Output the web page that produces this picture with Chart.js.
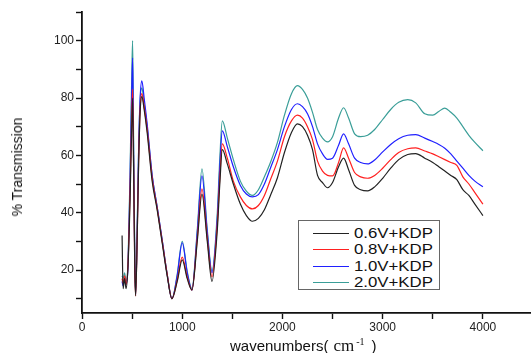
<!DOCTYPE html>
<html>
<head>
<meta charset="utf-8">
<script src="https://cdn.jsdelivr.net/npm/chart.js@4.4.1/dist/chart.umd.min.js"></script>
<style>
  body { margin: 0; background: #fff; }
  #wrap { position: relative; width: 531px; height: 353px; overflow: hidden; font-family: "Liberation Sans", Arial, sans-serif; color: #111; }
  #c { position: absolute; left: 0; top: 0; }
  .ytitle { position: absolute; left: 17px; top: 167px; transform: translate(-50%, -50%) rotate(-90deg); font-size: 14px; white-space: nowrap; }
  .xtitle { position: absolute; left: 230px; top: 337px; font-size: 15px; line-height: 17px; white-space: nowrap; }
  .xtitle .cm { font-family: "Liberation Serif", serif; font-size: 17px; margin-left: 5px; }
  .xtitle sup { font-size: 10px; vertical-align: 6px; line-height: 0; margin-left: 2px; }
  .xtitle .cp { margin-left: 7px; }
  .legend { position: absolute; left: 298px; top: 220px; width: 140px; height: 68px; border: 1px solid #666; background: #fff; }
  .row { position: absolute; left: 0; height: 16px; width: 140px; }
  .row .ln { position: absolute; left: 14px; top: 8px; width: 36px; height: 1px; }
  .row .tx { position: absolute; left: 55px; top: 0; font-size: 14px; line-height: 16px; transform: scaleX(1.2); transform-origin: left center; white-space: nowrap; }
</style>
</head>
<body>
<div id="wrap">
  <canvas id="c" width="531" height="353"></canvas>
  <div class="ytitle">% Transmission</div>
  <div class="xtitle">wavenumbers(<span class="cm">cm<sup>-1</sup></span><span class="cp">)</span></div>
  <div class="legend" id="legend"></div>
</div>
<script>
// x values (cm-1) shared by every series
const wavenumbers = [400, 410, 425, 440, 460, 480, 495, 505, 515, 527,
  535, 550, 565, 580, 597, 620, 650, 700, 750, 800,
  850, 897, 950, 1000, 1050, 1097, 1150, 1197, 1250, 1297,
  1350, 1375, 1400, 1450, 1510, 1580, 1640, 1700, 1760, 1820,
  1880, 1950, 2020, 2090, 2150, 2200, 2250, 2300, 2350, 2400,
  2450, 2500, 2560, 2610, 2660, 2720, 2780, 2850, 2920, 3000,
  3080, 3160, 3250, 3330, 3420, 3500, 3560, 3620, 3680, 3740,
  3800, 3860, 3920, 4000];

const kdp06 = [32, 13.5, 17, 13.5, 22, 45, 68, 80, 55, 20,
  11, 30, 57, 75, 80.5, 76, 68, 51, 41, 29.5,
  18, 10, 16, 23.5, 17, 13, 30, 46.5, 30, 16,
  34, 50, 62, 57, 50, 43, 39, 37, 38, 41,
  46, 52.2, 61, 68, 71, 70, 67, 62, 53, 50.5,
  48.7, 50.5, 56, 59, 55, 49.5, 48, 47.6, 49, 52,
  55.5, 58.5, 60.3, 60.6, 59, 57.5, 56, 54.5, 53, 51.5,
  48, 46, 43, 39];

const kdp08 = [17, 15.5, 18, 15, 23, 48, 72, 83, 56, 20,
  11, 30, 58, 76, 81.5, 77, 69, 52, 41.5, 30,
  18.5, 10, 16.5, 24.5, 17.5, 13, 31, 48.3, 31, 17.6,
  36, 52, 64, 59, 51, 45.5, 42.5, 41.3, 42.5, 46,
  51.5, 58, 66.5, 72, 74, 73, 70, 65.5, 58, 54.5,
  53, 52.8, 57.5, 62.6, 59, 54, 52.5, 52, 53, 55.5,
  58.5, 61, 62.3, 62.6, 61.5, 60.5, 59.5, 58.5, 57.5, 56.5,
  52.5, 50, 47, 43];

const kdp10 = [16, 14.5, 17, 15, 22, 52, 80, 94, 60, 22,
  11.5, 32, 62, 80, 86, 80, 71, 53, 42, 30.5,
  18.5, 10, 18, 29.5, 19, 13, 33, 52.8, 33, 19,
  38, 56, 68.5, 63, 56, 49.5, 46.5, 45.5, 46.3, 50,
  55.5, 62, 70, 76, 78, 77, 74.5, 70, 64, 60.5,
  58.6, 59, 63.5, 67.5, 64, 59, 57.5, 57, 58.4, 61.2,
  63.8, 65.8, 67, 67.2, 66, 64.8, 63.8, 62.5, 60.5, 58,
  55.5, 53, 51, 49];

const kdp20 = [18, 17, 19, 16, 24, 55, 85, 100, 65, 24,
  12, 34, 62, 79, 83.5, 78, 70, 53, 42, 30.5,
  18.5, 10, 18.5, 30, 19.5, 13.5, 34, 55.3, 34, 19.6,
  40, 59, 72, 66, 58.5, 51, 47.5, 46, 48, 52.5,
  57.5, 64.5, 74, 81.5, 84.3, 83, 80, 75, 69, 66,
  64.7, 66.5, 73, 76.6, 73, 67.5, 66.5, 67, 69, 72.5,
  76, 78.5, 79.4, 78.3, 74.5, 74, 75.3, 76.5, 75, 73,
  70, 67, 64.5, 61.6];

const xTicks = [0, 500, 1000, 1500, 2000, 2500, 3000, 3500, 4000];
const xLabels = [0, 1000, 2000, 3000, 4000];
const yLabels = [20, 40, 60, 80, 100];

const seriesNames = ['0.6V+KDP', '0.8V+KDP', '1.0V+KDP', '2.0V+KDP'];
const seriesColors = ['#222222', '#ff2020', '#2020ff', '#3a9e98'];
const seriesValues = [kdp06, kdp08, kdp10, kdp20];

const datasets = seriesValues.map((vals, i) => ({
  label: seriesNames[i],
  data: vals.map((v, j) => ({ x: wavenumbers[j], y: v })),
  borderColor: seriesColors[i],
  borderWidth: 1.2,
  pointRadius: 0,
  fill: false,
  cubicInterpolationMode: 'monotone'
}));

const tickFont = { family: '"Liberation Sans", Arial, sans-serif', size: 12 };

new Chart(document.getElementById('c'), {
  type: 'line',
  data: { datasets },
  options: {
    responsive: false,
    animation: false,
    devicePixelRatio: 1,
    layout: { padding: { top: 12, right: 0, left: 0, bottom: 0 } },
    plugins: { legend: { display: false }, tooltip: { enabled: false } },
    scales: {
      x: {
        type: 'linear',
        min: 0,
        max: 4480,
        border: { color: '#111', width: 1.8 },
        grid: { drawOnChartArea: false, drawTicks: true, tickLength: 6, tickColor: '#111', tickWidth: 1.4 },
        afterBuildTicks: s => { s.ticks = xTicks.map(v => ({ value: v })); },
        ticks: {
          padding: 1,
          color: '#222',
          font: tickFont,
          maxRotation: 0,
          autoSkip: false,
          callback: v => (xLabels.includes(v) ? String(v) : '')
        },
        afterFit: s => { s.height = 40; }
      },
      y: {
        min: 5,
        max: 110,
        border: { color: '#111', width: 1.8 },
        grid: { drawOnChartArea: false, drawTicks: true, tickLength: 6, tickColor: '#111', tickWidth: 1.4 },
        ticks: {
          stepSize: 10,
          includeBounds: false,
          padding: 2,
          color: '#222',
          font: tickFont,
          autoSkip: false,
          callback: v => (yLabels.includes(v) ? String(v) : '')
        },
        afterFit: s => { s.width = 82; }
      }
    }
  }
});

// legend box drawn over the plot area
const legend = document.getElementById('legend');
seriesNames.forEach((name, i) => {
  const row = document.createElement('div');
  row.className = 'row';
  row.style.top = (4 + i * 16.3) + 'px';
  row.innerHTML = '<div class="ln" style="background:' + seriesColors[i] + '"></div><div class="tx">' + name + '</div>';
  legend.appendChild(row);
});
</script>
</body>
</html>
